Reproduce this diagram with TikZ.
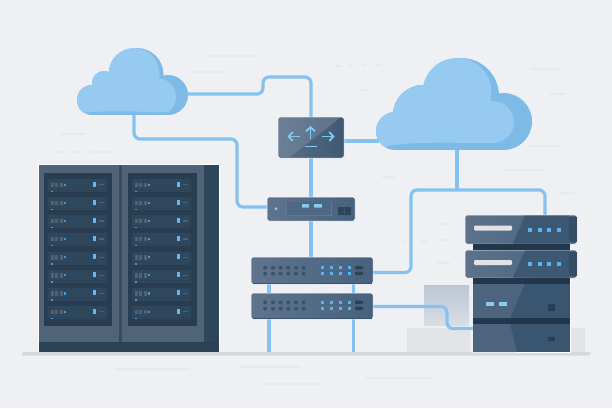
\documentclass[tikz,border=0pt]{standalone}
\usetikzlibrary{arrows.meta}
\definecolor{paper}{HTML}{EFF0F4}
\definecolor{wire}{HTML}{84C3EF}
\definecolor{cloudback}{HTML}{7EBAE6}
\definecolor{cloudfront}{HTML}{96CAF1}
\definecolor{rackbody}{HTML}{4F6477}
\definecolor{rackdark}{HTML}{2E465C}
\definecolor{rackfoot}{HTML}{2A4156}
\definecolor{rackpanel}{HTML}{283D52}
\definecolor{rackunit}{HTML}{2F475D}
\definecolor{ledblue}{HTML}{3C9BEA}
\definecolor{ledsky}{HTML}{58B4EE}
\definecolor{ledpale}{HTML}{84CBF0}
\definecolor{ground}{HTML}{D2D9E0}
\definecolor{faint}{HTML}{E8E9EC}
\definecolor{blockpale}{HTML}{E3E4E8}
\definecolor{steelA}{HTML}{5F748C}
\definecolor{steelB}{HTML}{47627E}
\definecolor{steelC}{HTML}{3A5570}
\definecolor{slot}{HTML}{22374B}
\definecolor{blocktop}{HTML}{BCC6D4}
\definecolor{blockbottom}{HTML}{D9DDE5}
\tikzset{
  link/.style={draw=wire,line width=3.2pt,rounded corners=6pt},
  mark line/.style={draw=faint,line width=1.1pt},
  box/.style={rectangle,inner sep=0pt,outer sep=0pt,rounded corners=2.2pt,draw=white,line width=.5pt},
  device/.style={box,left color=steelA,right color=steelB},
  arrowmark/.style={draw=ledpale,line width=1.8pt,-{Straight Barb[length=4pt,width=9pt,line width=1.8pt]}},
}
\begin{document}
\begin{tikzpicture}[x=1pt,y=-1pt]
\useasboundingbox (0,0) rectangle (612,408);
\fill[paper] (0,0) rectangle (612,408);

% faint background strokes
\foreach \xa/\xb/\yy in {207/255/56,191/225/72,60/85/134,55/65/152,71/83/152,90/113/152,
  335/341/66,348/354/66,363/367/65,375/382/65,360/370/90,531/558/69,549/565/94,530/560/146,
  382/395/177,505/545/170,560/575/193,439/448/224,403/407/242,420/428/242,436/449/240,437/450/263,
  115/190/369,240/300/367,365/430/378,265/320/384}
  \draw[mark line] (\xa,\yy) -- (\xb,\yy);

% pale blocks behind the tower
\shade[top color=blocktop,bottom color=blockbottom] (424,285) rectangle (469,325);
\fill[blockpale] (407,328) rectangle (470,352);
\fill[blockpale] (570,328) rectangle (585,352);

% ground line
\fill[ground,rounded corners=1pt] (22,352) rectangle (590,355.5);

% attachment points on the two clouds
\coordinate (cloudAeast) at (186,94);
\coordinate (cloudAsouth) at (134,113);
\coordinate (cloudBwest) at (379,141);
\coordinate (cloudBsouth) at (457,148);
\coordinate (groundA) at (269,352);
\coordinate (groundB) at (353.5,352);

% links run underneath the device bodies
\coordinate (routerN) at (311,117);
\coordinate (routerS) at (311,158);
\coordinate (routerE) at (344,141);
\coordinate (gatewayN) at (311,197);
\coordinate (gatewayS) at (311,221);
\coordinate (gatewayW) at (267,207);
\coordinate (switchAN) at (311,257);
\coordinate (switchAE) at (373,272.5);
\coordinate (switchBE) at (373,306.5);
\coordinate (towerW) at (473,328.5);
\coordinate (towerN) at (545,215);
\draw[link] (cloudAeast) -- (263,94) -- (263,77) -- (311,77) -- (routerN);
\draw[link] (cloudAsouth) -- (134,139) -- (237,139) -- (237,207) -- (gatewayW);
\draw[link,rounded corners=0pt] (routerS) -- (gatewayN);
\draw[link,rounded corners=0pt] (gatewayS) -- (switchAN);
\draw[link,rounded corners=0pt] (routerE) -- (cloudBwest);
\draw[link,rounded corners=0pt] (cloudBsouth) -- (457,190);
\draw[link] (switchAE) -- (411,272.5) -- (411,190) -- (545,190) -- (towerN);
\draw[link] (switchBE) -- (447,306.5) -- (447,328.5) -- (towerW);
\draw[link,rounded corners=0pt] (269,284) -- (269,293);
\draw[link,rounded corners=0pt] (353.5,284) -- (353.5,293);
\draw[link,rounded corners=0pt] (269,319) -- (groundA);
\draw[link,rounded corners=0pt] (353.5,319) -- (groundB);

% device bodies
\node[box,left color=steelA!70!steelB,right color=steelB!90!black,minimum width=66pt,minimum height=41pt] (router) at (311,137.5) {};
\node[device,minimum width=88pt,minimum height=24pt] (gateway) at (311,209) {};
\node[device,minimum width=122pt,minimum height=27pt] (switchA) at (312,270.5) {};
\node[device,minimum width=122pt,minimum height=26pt] (switchB) at (312,306) {};
\node[rectangle,inner sep=0pt,outer sep=0pt,fill=steelC,draw=white,line width=.5pt,minimum width=97pt,minimum height=74pt] (towerbase) at (521.5,315) {};
\node[box,left color=steelA!90!steelB,right color=steelB,minimum width=112pt,minimum height=29pt] (towerA) at (521,229.5) {};
\node[box,left color=steelA!90!steelB,right color=steelB,minimum width=112pt,minimum height=28pt] (towerB) at (521,264) {};

% left cloud
\fill[cloudback] (137,74.5) circle (26.5);
\fill[cloudback] (104,83) circle (12);
\fill[cloudback] (92,100) circle (15);
\fill[cloudback] (168,95) circle (20);
\fill[cloudback] (92,85) rectangle (168,115);
\begin{scope}
\clip (70,40) -- (180,40) -- (180,112) -- (150,112) .. controls (120,111) and (100,111) .. (85,112.5) -- (70,112) -- cycle;
\fill[cloudfront] (134,73.5) circle (25.5);
\fill[cloudfront] (104,83) circle (12);
\fill[cloudfront] (92,100) circle (15);
\fill[cloudfront] (157,97) circle (19);
\fill[cloudfront] (92,85) rectangle (157,115);
\end{scope}

% right cloud
\fill[cloudback] (461,96) circle (38);
\fill[cloudback] (423,115) circle (30);
\fill[cloudback] (395,131) circle (19);
\fill[cloudback] (503.5,121.5) circle (28.5);
\fill[cloudback] (395,120) rectangle (503.5,150);
\begin{scope}
\clip (370,50) -- (520,50) -- (520,143) -- (490,143) .. controls (450,143) and (410,141) .. (385,146.5) -- (370,146.5) -- cycle;
\fill[cloudfront] (457,92.5) circle (34.5);
\fill[cloudfront] (423,115) circle (30);
\fill[cloudfront] (395,131) circle (19);
\fill[cloudfront] (493,122) circle (21);
\fill[cloudfront] (395,115) rectangle (493,150);
\end{scope}

% two-bay rack
\fill[rackbody] (38,164) rectangle (219,352);
\fill[rackdark] (204,164) rectangle (219,352);
\fill[rackdark!80!rackbody] (119,164) rectangle (122,352);
\fill[rackfoot] (38,342) rectangle (219,352);
\draw[white,line width=.5pt] (38,352) -- (38,164) -- (219,164) -- (219,352);
\foreach \px/\pw in {44/68,128/69}{
  \fill[rackpanel] (\px,173) rectangle ++(\pw,153);
  \foreach \n in {0,...,7}{
    \pgfmathsetmacro{\yy}{179+18.15*\n}
    \pgfmathsetmacro{\ux}{\px+4}
    \fill[rackunit] (\ux,\yy) rectangle ++(59,13);
    \fill[rackpanel!40!rackunit] (\ux,\yy+10.5) rectangle ++(59,.8);
    \foreach \d in {2.5,7,11.5}
      \fill[gray!45!rackunit] (\ux+\d,\yy+3.5) rectangle ++(3,4.5);
    \fill[ledblue] (\ux+16,\yy+4.5) rectangle ++(2.2,2.2);
    \fill[ledblue!75!white] (\ux+45,\yy+2.5) rectangle ++(3,5);
    \fill[gray!45!rackunit] (\ux+51,\yy+5) rectangle ++(4.5,1.3);
    \fill[ledblue] (\ux+3,\yy+11.5) rectangle ++(2,1.4);
  }
}

% router face
\fill[steelA!75!white,opacity=.4,rounded corners=2pt] (279,118) -- (340,118) -- (290,157) -- (279,157) -- cycle;
\draw[arrowmark] (300,136.5) -- (287.5,136.5);
\draw[arrowmark] (310.5,139) -- (310.5,126);
\draw[arrowmark] (322,136.5) -- (334.5,136.5);
\draw[draw=ledpale,line width=1.8pt] (305,146.5) -- (317,146.5);

% gateway face
\fill[ledsky!70!white] (276,208.7) circle (1.7);
\draw[steelC!80!white,line width=.6pt,fill=steelB!70!steelA] (286,201.5) -- (286,215) -- (331,215) -- (331,201.5);
\fill[ledpale,rounded corners=.6pt] (302,204) rectangle ++(7,3.6);
\fill[ledpale,rounded corners=.6pt] (314,204) rectangle ++(8,3.6);
\fill[rackfoot!80!steelC] (338,207) rectangle (351,215);
\fill[steelC] (344,207.5) rectangle (345,214.5);

% switch faces
\foreach \ya/\yb in {267.7/273.7,302.3/308.7}{
  \foreach \xx in {265,273,280.7,288.3,296,303.7}{
    \fill[rackfoot!45!steelB] (\xx,\ya) circle (2);
    \fill[rackfoot!45!steelB] (\xx,\yb) circle (2);
  }
  \foreach \xx in {322.3,331.3,340.7,349.7}{
    \fill[ledsky] (\xx-1.7,\ya-1.7) rectangle ++(3.4,3.4);
    \fill[ledsky] (\xx-1.7,\yb-1.7) rectangle ++(3.4,3.4);
  }
  \fill[rackfoot,rounded corners=1pt] (355,\ya-1.7) rectangle ++(8,3.4);
  \fill[rackfoot,rounded corners=1pt] (355,\yb-2) rectangle ++(8,3.4);
}
\draw[steelC,line width=.8pt] (252.5,283.4) -- (371.5,283.4);
\draw[steelC,line width=.8pt] (252.5,318.4) -- (371.5,318.4);

% tower cabinet
\fill[slot] (473,244) rectangle (570,250);
\fill[slot] (473,278) rectangle (570,284);
\fill[slot] (473,318) rectangle (570,324);
\fill[steelA!50!steelC] (473,284) -- (525,284) -- (510,318) -- (473,318) -- cycle;
\fill[steelA!50!steelC] (473,324) -- (510,324) -- (517,352) -- (473,352) -- cycle;
\fill[steelC!80!steelB] (525,215.5) -- (569,215.5) -- (569,243.5) -- (513,243.5) -- cycle;
\fill[steelC!80!steelB] (525,250.5) -- (569,250.5) -- (569,277.5) -- (513,277.5) -- cycle;
\fill[steelC!92!black] (569,217) -- (569,242) -- (576.5,242) -- (576.5,217) -- cycle;
\fill[steelC!92!black] (569,252) -- (576.5,252) -- (576.5,276) -- (569,276) -- cycle;
\foreach \yb/\yl in {228/230,262.5/264}{
  \fill[white!80!steelA,rounded corners=1.2pt] (474,\yb-2.5) rectangle ++(38,5);
  \foreach \xx in {530,539.5,549,559}
    \fill[ledsky] (\xx-2,\yl-2) rectangle ++(4,4);
}
\fill[ledpale] (486,302) rectangle ++(8,3.8);
\fill[ledpale] (499,302) rectangle ++(8,3.8);
\fill[slot!80!steelC] (548,304) rectangle ++(7,7);
\fill[slot!80!steelC] (548,337) rectangle ++(7,4);
\end{tikzpicture}
\end{document}
